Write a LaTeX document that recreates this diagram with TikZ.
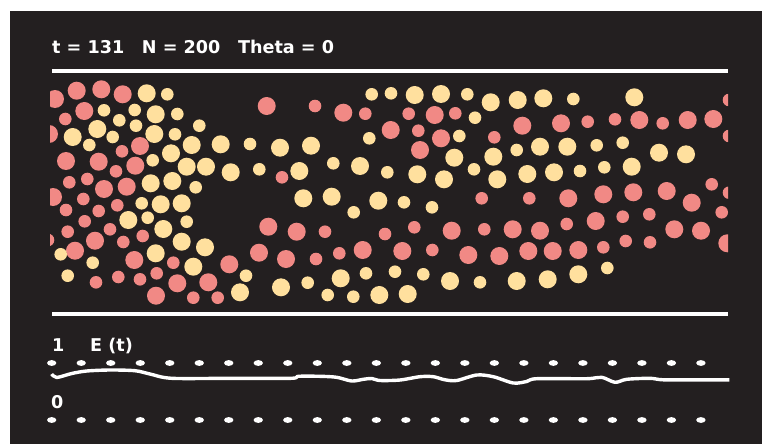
\documentclass[tikz,border=0pt]{standalone}
\usepackage{fontspec}
\setmainfont{DejaVu Sans}
\definecolor{bg}{RGB}{35,31,32}
\definecolor{pk}{RGB}{241,137,133}
\definecolor{yl}{RGB}{255,224,158}
\tikzset{
  lbl/.style={text=white, inner sep=0pt, anchor=base west, font=\fontsize{17.6pt}{20pt}\selectfont\bfseries},
  wall/.style={white, line width=4pt},
  dotmark/.style={white},
}
\begin{document}
\begin{tikzpicture}[x=1pt,y=-1pt]
\useasboundingbox (0,0) rectangle (762,444);
\fill[white] (0,0) rectangle (762,444);
\fill[bg] (10,11) rectangle (762,444);
% title
\node[lbl] (title) at (52,54) {t = 131\hspace{1em}N = 200\hspace{1em}Theta = 0};
% walls
\draw[wall] (52,71) -- (728,71);
\draw[wall] (52,314) -- (728,314);
% particles
\begin{scope}
\clip (50,74) rectangle (728,312);
\foreach \x/\y in {55/99,76.7/90.7,101.3/89.3,122.7/94.3,84.3/111,49/134,140/146,66/161,98.7/161.7,135.3/165.7,104/189,126.7/186.7,53/197,95/240.7,75/250.7,134.3/260,156/295.7,229.3/264.3,259/252.7,177.3/283.3,208.3/282.3,266.7/106,343.3/112.7,434.7/115,390.7/130,441/138.3,420/150,268.3/226.7,296.7/231.7,451.7/230.7,512.7/229.3,286/259,362.7/250,402.3/251,468.3/255,499.3/256,522.3/125.7,561/123.3,639.3/120,687.7/120,713.3/119,568.3/198.3,603.3/194.3,633.3/192.3,666.7/191,691.7/202.7,540/230.7,595.7/221,674.3/229.3,701/230.7,727.3/243.3,528.3/251,552.7/251,578.3/250}
  \fill[pk] (\x,\y) circle[radius=9pt];
\foreach \x/\y in {65.3/119,122/151.3,116/171.3,69.3/182.3,87.3/179,83.3/199,66/210,98.7/211,117.3/205.3,84.7/221.3,110/229.3,67.7/231.7,123.3/242,142.7/236,48/240,96/282.3,118.3/277,140/279.3,173.3/262.7,156.7/273.3,193.3/297.7,217.7/297.7,315/106,365.3/113.7,408.7/113.7,455.3/113.3,418.3/130.7,494.3/137.3,282/177.3,481.7/198.3,325/231.7,385/234,414.3/227.3,484.3/229.3,316/259,339.3/253.3,432.3/250,729/100,587.7/121.7,615/119.3,662.7/123.3,729/136,711.7/184.3,529.3/198.3,729/192.7,721.7/212.3,566.7/224,622.7/216.7,649.3/214.3,603.3/247.3,625.7/241,650/242.3}
  \fill[pk] (\x,\y) circle[radius=6.3pt];
\foreach \x/\y in {146.7/93.3,72.7/137,97.3/129,150.7/183.3,128.3/220,160.7/204.3,181.7/203.3,163.3/229,181.7/241.7,205/247.3,155.7/253.3,193.3/266.7,240/292.3,155.7/114.3,154.3/134,191.7/145,220.7/144.3,171/153.3,186.7/166.7,206/166.7,230.7/172.3,172.3/181,414.7/95,441/94,490.7/102.3,280/147.7,311/145.7,454.3/157.7,493.3/156.7,299.3/171,360/166,417.3/174.3,444/179.3,497.3/179.3,303.3/198.3,331.7/196.7,378.3/200.7,281/287.3,340.7/278.3,450/281,379.3/295,407.7/294,517.7/100,543.3/98.3,634.3/97.3,540/146.7,567.3/146.7,659/152.7,686/154.3,527.3/174,554/172.3,631.7/166.7,516.7/281,547.7/279.3,578.3/274.3}
  \fill[yl] (\x,\y) circle[radius=9pt];
\foreach \x/\y in {104/110.3,134.7/110,119.3/120.3,136/125.7,112.7/137,89.3/145,152.7/160.3,141.7/203.3,147.7/217.7,186.7/221.7,60.7/254.3,92.7/262.7,67.7/275.7,246/275.7,167.3/94.3,177.3/114,175/134.3,199.3/125.7,250/144,259.3/169.3,195.7/187.3,371.7/94.3,391/93.3,467.3/94.3,475/117.7,459.3/136,369.3/138.3,333.3/163.3,387.3/172.3,474/169.3,353.7/212.3,404/202.3,432/207.3,307.7/282.7,366/273.3,395/271.7,423.3/274.3,480/282.3,327.7/295,353.3/296.7,573.3/99,516.7/150,596.7/145.3,622.7/142.7,580/171,604.3/167.3,607.3/268}
  \fill[yl] (\x,\y) circle[radius=6.3pt];
\end{scope}
% energy plot
\node[lbl] (one) at (52,351) {1};
\node[lbl] (elabel) at (90,351) {E (t)};
\node[lbl] (zero) at (51,408) {0};
\foreach \i in {0,...,22} {
  \fill[dotmark] ({51.7+29.51*\i},363) ellipse[x radius=4.7pt, y radius=2.9pt];
  \fill[dotmark] ({51.7+29.51*\i},420) ellipse[x radius=4.7pt, y radius=2.9pt];
}
\draw[white, line width=3.4pt, line join=round] plot[smooth, tension=0.5] coordinates {
(51.7,374) (56.7,377.5) (71.7,373.5) (86.7,371) (110,370) (135,370.7) (150,374) (171.7,378.3)
(230,378.3) (291,378.3) (298.3,376.3) (320,376.3) (336.7,377.3) (351.7,381) (363.3,379.3)
(371.7,378.5) (380,380.5) (400,380) (420,376.7) (433.3,376.7) (445,379.8) (456.7,380.5)
(476.7,375) (493.3,376.7) (513.3,383) (526.7,381.5) (536.7,378.7) (586.7,378.7) (601.7,377.3)
(615,382.3) (626.7,379.3) (650,378.3) (663.3,379.8) (700,379.8) (729.3,379.8)};
\end{tikzpicture}
\end{document}
